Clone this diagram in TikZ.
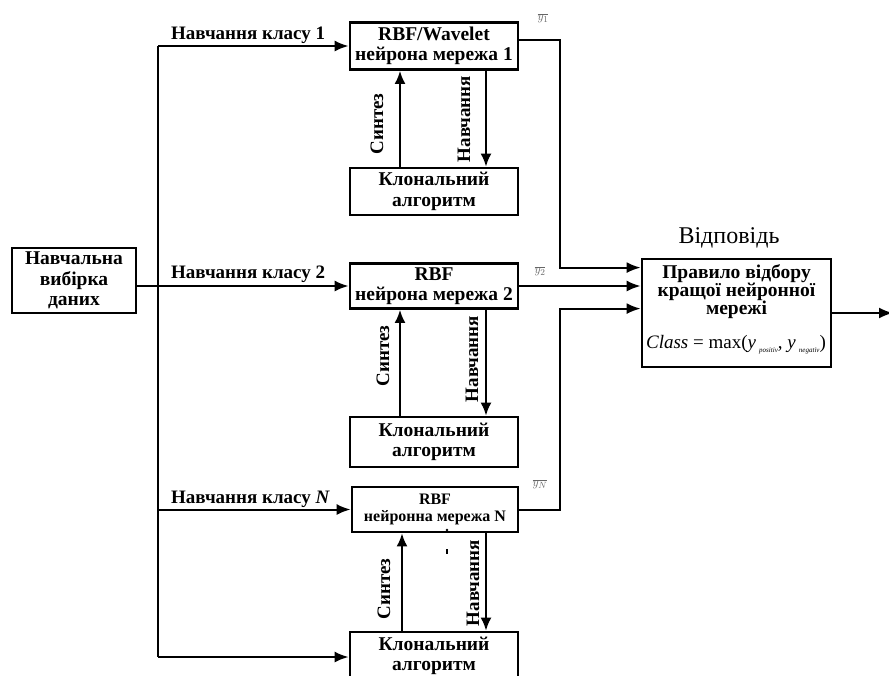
\documentclass[tikz,border=0pt]{standalone}
\usepackage{fontspec}
\setmainfont{Liberation Serif}
\usetikzlibrary{arrows.meta,calc}
\begin{document}
\begin{tikzpicture}[x=1pt,y=-1pt,
  box/.style={draw, line width=2.8pt, minimum width=168pt, minimum height=47pt, inner sep=0pt, align=center, font=\bfseries\fontsize{19.5}{20.5}\selectfont},
  conn/.style={line width=2pt},
  arr/.style={conn, -{Latex[length=14pt,width=11pt]}},
  varr/.style={conn, -{Latex[length=13pt,width=11pt]}},
  lbl/.style={font=\bfseries\fontsize{19}{20}\selectfont, inner sep=0pt},
  ybar/.style={font=\fontsize{13}{13}\selectfont, text=black!60, inner sep=0pt},
  rtxt/.style={font=\bfseries\fontsize{19.5}{20}\selectfont, inner sep=0pt, anchor=base, text height=12.5pt, text depth=4pt},
]
\useasboundingbox (0,0) rectangle (889,675);
\fill[white] (0,0) rectangle (889,675);

% boxes
\node[box, minimum width=124pt, minimum height=65pt] (data) at (74,280.5) {Навчальна\\вибірка\\даних};
\node[box] (b1) at (434,46) {RBF/Wavelet\\нейрона мережа 1};
\node[box] (k1) at (434,191.5) {Клональний\\алгоритм};
\node[box, minimum height=45pt] (b2) at (434,286) {RBF\\нейрона мережа 2};
\node[box, minimum height=50pt] (k2) at (434,442) {Клональний\\алгоритм};
\node[box, minimum width=166pt, minimum height=45pt, font=\bfseries\fontsize{16}{17}\selectfont] (bN) at (435,509.5) {RBF\\нейронна мережа N};
\node[box, minimum height=48pt] (kN) at (434,656) {Клональний\\алгоритм};
\node[box, minimum width=189pt, minimum height=108pt] (rule) at (736.5,313) {};

% rule box text
\node[rtxt] (r1) at (736.5,278) {Правило відбору};
\node[rtxt] (r2) at (736.5,296) {кращої нейронної};
\node[rtxt] (r3) at (736.5,314) {мережі};
\node[font=\fontsize{19}{20}\selectfont, inner sep=0pt, anchor=base] (form) at (736,348)
  {\textit{Class} = max(\textit{y}\,\raisebox{-4pt}{\fontsize{7}{7}\selectfont\textit{positiv}}, \textit{y}\,\raisebox{-4pt}{\fontsize{7}{7}\selectfont\textit{negativ}})};

\node[font=\fontsize{24}{26}\selectfont, inner sep=0pt, anchor=base] (resp) at (729,243) {Відповідь};

% coordinates
\coordinate (busT) at (158,46);
\coordinate (busB) at (158,657);
\coordinate (xS) at (400,0);
\coordinate (xSN) at (402,0);
\coordinate (xT) at (486,0);
\coordinate (xO) at (560,0);
\coordinate (o1) at ($(b1.east)+(0,-6)$);
\coordinate (in1) at ($(rule.north west)+(0,10)$);
\coordinate (in3) at ($(rule.north west)+(0,51)$);
\coordinate (out) at (893,313);

% bus and inputs
\draw[conn] (busT) -- (busB);
\draw[arr] (busT) -- (b1.west);
\draw[arr] (data.east |- b2.west) -- (b2.west);
\draw[arr] (busT |- bN.west) -- (bN.west);
\draw[arr] (busB) -- (kN.west |- busB);

% synthesis / training
\draw[varr] (k1.north -| xS) -- (b1.south -| xS);
\draw[varr] (b1.south -| xT) -- (k1.north -| xT);
\draw[varr] (k2.north -| xS) -- (b2.south -| xS);
\draw[varr] (b2.south -| xT) -- (k2.north -| xT);
\draw[varr] (kN.north -| xSN) -- (bN.south -| xSN);
\draw[varr] (bN.south -| xT) -- (kN.north -| xT);

% outputs
\draw[arr] (o1) -| (xO |- in1) -- (in1);
\draw[arr] (b2.east) -- (b2.east -| rule.west);
\draw[arr] (bN.east) -| (xO |- in3) -- (in3);
\draw[arr] (rule.east) -- (out);

% labels
\node[lbl, anchor=base west] (c1) at (171,39) {Навчання класу 1};
\node[lbl, anchor=base west] (c2) at (171,278) {Навчання класу 2};
\node[lbl, anchor=base west] (cN) at (171,503) {Навчання класу \textit{N}};

\node[lbl, rotate=90] (s1) at (377,124) {Синтез};
\node[lbl, rotate=90] (t1) at (464,119) {Навчання};
\node[lbl, rotate=90] (s2) at (383,356) {Синтез};
\node[lbl, rotate=90] (t2) at (472,359) {Навчання};
\node[lbl, rotate=90] (sN) at (384,589) {Синтез};
\node[lbl, rotate=90] (tN) at (473,583) {Навчання};

\node[ybar] (y1) at (543,18) {$\overline{y_{1}}$};
\node[ybar] (y2) at (540,271) {$\overline{y_{2}}$};
\node[ybar] (yN) at (540,484) {$\overline{y_{N}}$};

% small marks
\fill (447,530) circle (1.4pt);
\draw[line width=1.6pt] (447,549) -- (447,554);
\end{tikzpicture}
\end{document}
